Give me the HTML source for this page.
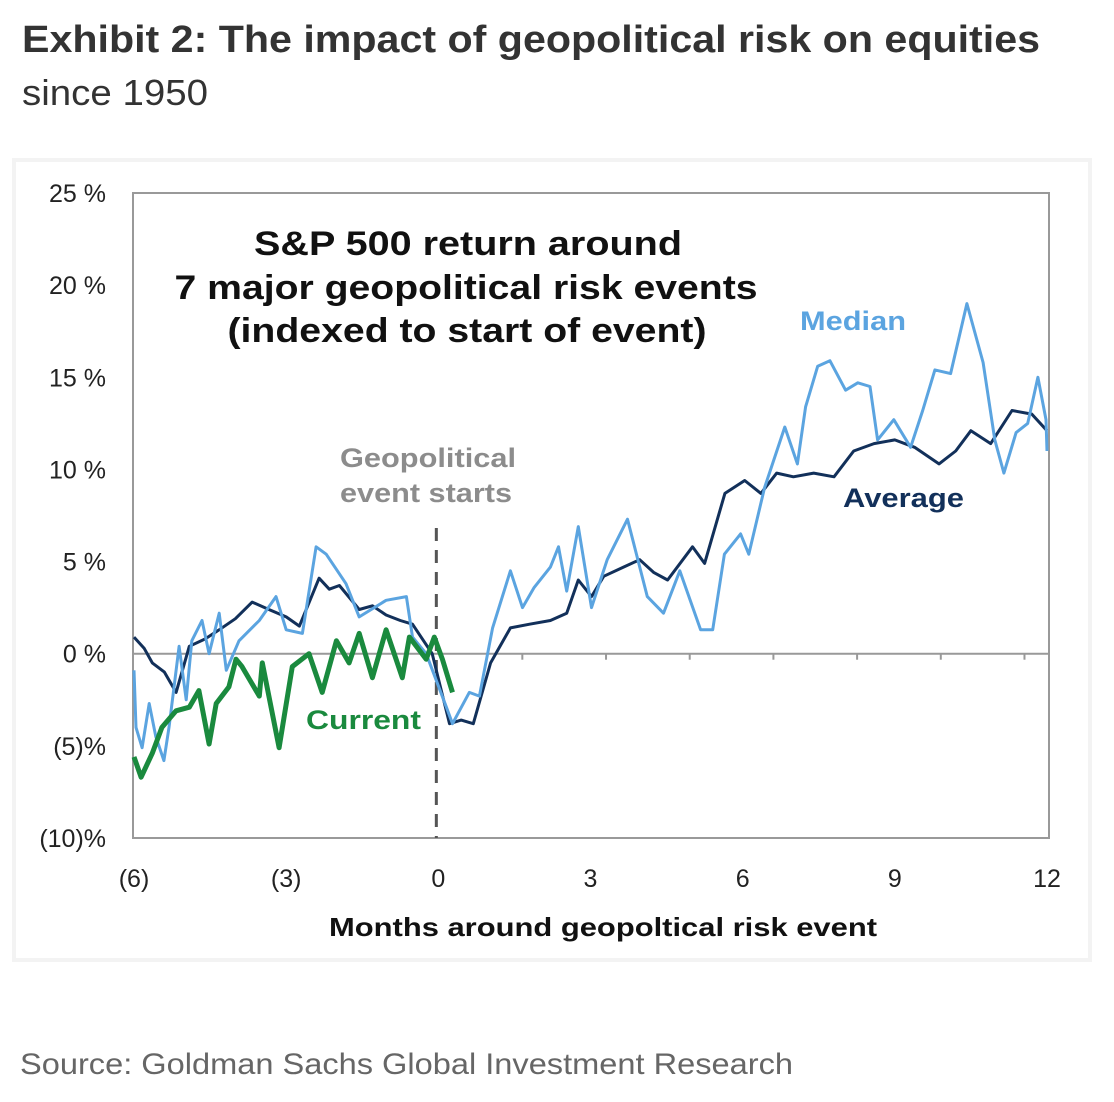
<!DOCTYPE html>
<html><head><meta charset="utf-8"><style>
html,body{margin:0;padding:0;background:#fff;}
svg{display:block;}
text{font-family:"Liberation Sans",sans-serif;}
</style></head><body>
<svg id="chart" width="1114" height="1102" viewBox="0 0 1114 1102">
<text x="22" y="52" font-size="38" font-weight="bold" fill="#333" textLength="1018" lengthAdjust="spacingAndGlyphs">Exhibit 2: The impact of geopolitical risk on equities</text>
<text x="22" y="105" font-size="36" fill="#333" textLength="186" lengthAdjust="spacingAndGlyphs">since 1950</text>
<rect x="14" y="160" width="1076" height="800" fill="#fff" stroke="#f3f3f3" stroke-width="4"/>
<rect x="133" y="193" width="916" height="645" fill="#fff" stroke="#999" stroke-width="2"/>
<g id="axes"></g>
<g id="series"></g>
<text x="468" y="255" font-size="34" font-weight="bold" fill="#111" text-anchor="middle" textLength="428" lengthAdjust="spacingAndGlyphs">S&amp;P 500 return around</text>
<text x="466" y="299" font-size="34" font-weight="bold" fill="#111" text-anchor="middle" textLength="583" lengthAdjust="spacingAndGlyphs">7 major geopolitical risk events</text>
<text x="467" y="342" font-size="34" font-weight="bold" fill="#111" text-anchor="middle" textLength="479" lengthAdjust="spacingAndGlyphs">(indexed to start of event)</text>
<text x="340" y="467" font-size="27" font-weight="bold" fill="#8c8c8c" textLength="176" lengthAdjust="spacingAndGlyphs">Geopolitical</text>
<text x="340" y="502" font-size="27" font-weight="bold" fill="#8c8c8c" textLength="172" lengthAdjust="spacingAndGlyphs">event starts</text>
<text x="800" y="330" font-size="27" font-weight="bold" fill="#5ba4e0" textLength="106" lengthAdjust="spacingAndGlyphs">Median</text>
<text x="843" y="507" font-size="27" font-weight="bold" fill="#12305a" textLength="121" lengthAdjust="spacingAndGlyphs">Average</text>
<text x="306" y="729" font-size="27" font-weight="bold" fill="#1a8a3e" textLength="115" lengthAdjust="spacingAndGlyphs">Current</text>
<text x="603" y="936" font-size="26" font-weight="bold" fill="#111" text-anchor="middle" textLength="548" lengthAdjust="spacingAndGlyphs">Months around geopoltical risk event</text>
<text x="20" y="1074" font-size="30" fill="#666" textLength="773" lengthAdjust="spacingAndGlyphs">Source: Goldman Sachs Global Investment Research</text>
</svg>
<script>
const yTicks = [25, 20, 15, 10, 5, 0, -5, -10];
const yTickLabels = ["25 %", "20 %", "15 %", "10 %", "5 %", "0 %", "(5)%", "(10)%"];
const xTicks = [-6, -3, 0, 3, 6, 9, 12];
const xTickLabels = ["(6)", "(3)", "0", "3", "6", "9", "12"];
const eventMonth = 0;

const avgX = [-6,-5.8,-5.64,-5.4,-5.17,-4.91,-4.6,-4.32,-4.0,-3.67,-3.34,-3.0,-2.74,-2.35,-2.15,-1.95,-1.56,-1.3,-1.03,-0.75,-0.51,-0.12,0.22,0.45,0.69,1.03,1.42,1.8,2.21,2.53,2.76,3.02,3.26,3.65,3.97,4.25,4.52,5.01,5.25,5.65,6.04,6.36,6.67,7.0,7.4,7.8,8.19,8.59,9.0,9.39,9.87,10.2,10.5,10.89,11.31,11.7,12];
const avgY = [0.9,0.3,-0.5,-1.0,-2.1,0.4,0.8,1.3,1.9,2.8,2.4,2.0,1.5,4.1,3.5,3.7,2.4,2.6,2.1,1.8,1.6,0,-3.8,-3.6,-3.8,-0.5,1.4,1.6,1.8,2.2,4.0,3.1,4.2,4.7,5.1,4.4,4.0,5.8,4.9,8.7,9.4,8.7,9.8,9.6,9.8,9.6,11.0,11.4,11.6,11.2,10.3,11.0,12.1,11.4,13.2,13.0,12.1];

const medX = [-6,-5.96,-5.84,-5.7,-5.57,-5.41,-5.31,-5.11,-4.97,-4.86,-4.66,-4.52,-4.32,-4.18,-3.93,-3.53,-3.2,-3.0,-2.68,-2.41,-2.21,-1.82,-1.56,-1.03,-0.63,-0.51,-0.24,0.16,0.28,0.61,0.81,1.07,1.42,1.66,1.89,2.21,2.37,2.53,2.76,3.02,3.33,3.73,4.12,4.44,4.76,5.17,5.41,5.64,5.96,6.12,6.43,6.83,7.08,7.24,7.48,7.72,8.03,8.27,8.51,8.66,8.98,9.31,9.55,9.79,10.1,10.42,10.74,10.97,11.15,11.39,11.62,11.82,11.98,12];
const medY = [-0.9,-4.0,-5.1,-2.7,-4.5,-5.8,-4.0,0.4,-2.5,0.7,1.8,0,2.2,-0.9,0.7,1.8,3.1,1.3,1.1,5.8,5.4,3.8,2.0,2.9,3.1,0.9,0,-2.9,-3.8,-2.1,-2.3,1.4,4.5,2.5,3.6,4.7,5.8,3.4,6.9,2.5,5.1,7.3,3.1,2.2,4.5,1.3,1.3,5.4,6.5,5.4,9.0,12.3,10.3,13.4,15.6,15.9,14.3,14.7,14.5,11.6,12.7,11.2,13.2,15.4,15.2,19.0,15.8,11.6,9.8,12.0,12.5,15.0,12.7,11.0];

const curX = [-6,-5.86,-5.64,-5.45,-5.17,-4.91,-4.72,-4.52,-4.38,-4.13,-3.99,-3.87,-3.53,-3.47,-3.14,-2.88,-2.55,-2.29,-2.01,-1.76,-1.56,-1.3,-1.03,-0.71,-0.57,-0.24,-0.08,0.08,0.28];
const curY = [-5.6,-6.7,-5.4,-4.0,-3.1,-2.9,-2.0,-4.9,-2.7,-1.8,-0.3,-0.7,-2.3,-0.5,-5.1,-0.7,0,-2.1,0.7,-0.5,1.1,-1.3,1.3,-1.3,0.9,-0.3,0.9,-0.3,-2.1];

const X0 = 134, X1 = 1047, Y0 = 193, Y1 = 838;
function xs(m){ return X0 + (m + 6) / 18 * (X1 - X0); }
function ys(v){ return Y0 + (25 - v) / 35 * (Y1 - Y0); }
const NS = "http://www.w3.org/2000/svg";
const axes = document.getElementById('axes');
const series = document.getElementById('series');

yTicks.forEach((t, i) => {
  const tx = document.createElementNS(NS, 'text');
  tx.setAttribute('x', 106); tx.setAttribute('y', ys(t) + 9);
  tx.setAttribute('font-size', '25'); tx.setAttribute('fill', '#222');
  tx.setAttribute('text-anchor', 'end');
  tx.textContent = yTickLabels[i];
  
  
  axes.appendChild(tx);
});
xTicks.forEach((t, i) => {
  const tx = document.createElementNS(NS, 'text');
  tx.setAttribute('x', xs(t)); tx.setAttribute('y', 887);
  tx.setAttribute('font-size', '25'); tx.setAttribute('fill', '#222');
  tx.setAttribute('text-anchor', 'middle');
  tx.textContent = xTickLabels[i];
  
  
  axes.appendChild(tx);
});
const zero = document.createElementNS(NS, 'line');
zero.setAttribute('x1', X0); zero.setAttribute('x2', 1049);
zero.setAttribute('y1', ys(0)); zero.setAttribute('y2', ys(0));
zero.setAttribute('stroke', '#999'); zero.setAttribute('stroke-width', '2');


axes.appendChild(zero);
for (let m = 0; m <= 12; m += 1.65) {
  const px = xs(m) + 84;
  if (px > 1045) break;
  const tk = document.createElementNS(NS, 'line');
  tk.setAttribute('x1', px); tk.setAttribute('x2', px);
  tk.setAttribute('y1', ys(0)); tk.setAttribute('y2', ys(0) + 6);
  tk.setAttribute('stroke', '#999'); tk.setAttribute('stroke-width', '2');
  
  
  axes.appendChild(tk);
}
const ev = document.createElementNS(NS, 'line');
ev.setAttribute('x1', xs(eventMonth) - 2); ev.setAttribute('x2', xs(eventMonth) - 2);
ev.setAttribute('y1', 528); ev.setAttribute('y2', 838);
ev.setAttribute('stroke', '#555'); ev.setAttribute('stroke-width', '3');
ev.setAttribute('stroke-dasharray', '13 9');


axes.appendChild(ev);

function drawLine(xArr, yArr, color, w, name){
  const p = document.createElementNS(NS, 'polyline');
  p.setAttribute('points', xArr.map((m, i) => xs(m).toFixed(1) + ',' + ys(yArr[i]).toFixed(1)).join(' '));
  p.setAttribute('fill', 'none'); p.setAttribute('stroke', color);
  p.setAttribute('stroke-width', w); p.setAttribute('stroke-linejoin', 'round');
  
  
  series.appendChild(p);
}
drawLine(avgX, avgY, '#12305a', 3, 'average-line');
drawLine(medX, medY, '#5ba4e0', 3, 'median-line');
drawLine(curX, curY, '#1a8a3e', 5, 'current-line');
</script>
</body></html>
